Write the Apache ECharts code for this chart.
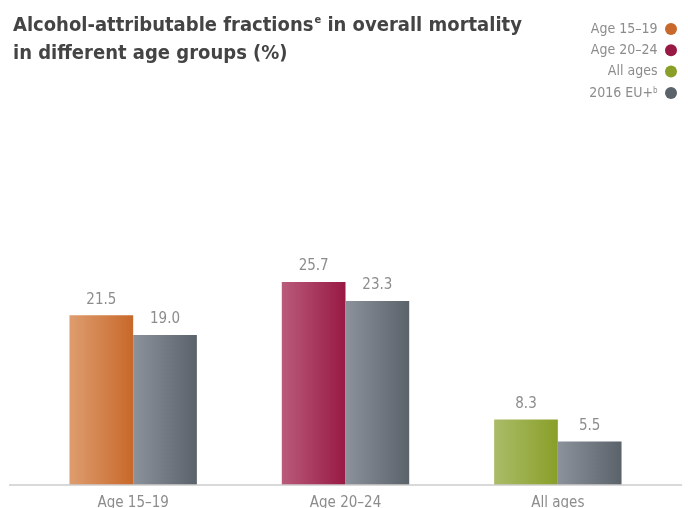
<!DOCTYPE html>
<html>
<head>
<meta charset="utf-8">
<script src="https://cdn.jsdelivr.net/npm/echarts@6/dist/echarts.min.js"></script>
<style>
  html, body { margin: 0; padding: 0; background: #fff; }
  #chart { width: 688px; height: 508px; }
</style>
</head>
<body>
<div id="chart"></div>
<script>
// categories and values
const categories = ['Age 15–19', 'Age 20–24', 'All ages']
const legendNames = ['Age 15–19', 'Age 20–24', 'All ages', '2016 EU+']
const groupValues = [21.5, 25.7, 8.3]
const euValues = [19.0, 23.3, 5.5]

// left (light) / right (dark) shades for each colour
const shades = {
  'Age 15–19': ['#de9d6f', '#c8682a'],
  'Age 20–24': ['#b95b7a', '#981943'],
  'All ages': ['#aabc69', '#899f28'],
  '2016 EU+': ['#8c929b', '#5a626a'],
}

const FONT = '"Liberation Sans Narrow", "DejaVu Sans Condensed", sans-serif'

function grad(name) {
  return new echarts.graphic.LinearGradient(0, 0, 1, 0, [
    { offset: 0, color: shades[name][0] },
    { offset: 1, color: shades[name][1] },
  ])
}

const labelStyle = {
  show: true,
  position: 'top',
  distance: 8,
  color: '#8c8c8c',
  fontFamily: FONT,
  fontSize: 15,
  formatter: p => (p.value == null ? '' : p.value.toFixed(1)),
}

// one stacked series per age group so each only fills its own category
const series = categories.map((cat, i) => ({
  name: cat,
  type: 'bar',
  stack: 'group',
  barGap: '0%',
  barCategoryGap: '40%',
  data: categories.map((c, j) => (j === i ? groupValues[i] : null)),
  itemStyle: { color: grad(cat) },
  label: labelStyle,
}))
series.push({
  name: '2016 EU+',
  type: 'bar',
  barGap: '0%',
  barCategoryGap: '40%',
  data: euValues,
  itemStyle: { color: grad('2016 EU+') },
  label: labelStyle,
})

const chart = echarts.init(document.getElementById('chart'))
chart.setOption({
  animation: false,
  title: {
    text: '{t|Alcohol-attributable fractions}{s|e}{t| in overall mortality}\n{t|in different age groups (%)}',
    left: 8,
    top: 7,
    textStyle: {
      rich: {
        t: { fontFamily: FONT, fontWeight: 'bold', fontSize: 20, color: '#444', lineHeight: 28 },
        s: { fontFamily: FONT, fontWeight: 'bold', fontSize: 11, color: '#444', verticalAlign: 'top', lineHeight: 28, padding: [3, 0, 0, 1] },
      },
    },
  },
  legend: {
    orient: 'vertical',
    right: 6,
    top: 17,
    align: 'right',
    icon: 'circle',
    itemWidth: 17,
    itemHeight: 12,
    itemGap: 7.3,
    selectedMode: false,
    textStyle: {
      fontFamily: FONT,
      fontSize: 14,
      lineHeight: 12,
      color: '#8c8c8c',
      rich: { sup: { fontSize: 8, color: '#8c8c8c', verticalAlign: 'top', lineHeight: 12, padding: [0, 0, 6, 0] } },
    },
    formatter: n => (n === '2016 EU+' ? '2016 EU+{sup|b}' : n),
    data: legendNames.map(n => ({ name: n, itemStyle: { color: shades[n][1] } })),
  },
  grid: { left: 27, right: 24, top: 248, bottom: 23, outerBoundsMode: 'none' },
  xAxis: {
    type: 'category',
    data: categories,
    axisLine: { show: false },
    axisTick: { show: false },
    axisLabel: { margin: 11, color: '#8c8c8c', fontFamily: FONT, fontSize: 15 },
  },
  yAxis: {
    type: 'value',
    min: 0,
    max: 30,
    show: false,
    splitLine: { show: false },
  },
  graphic: [
    {
      type: 'line',
      shape: { x1: 9, y1: 485, x2: 682, y2: 485 },
      style: { stroke: '#cccccc', lineWidth: 1.5 },
      z: 10,
    },
  ],
  series: series,
})
</script>
</body>
</html>
